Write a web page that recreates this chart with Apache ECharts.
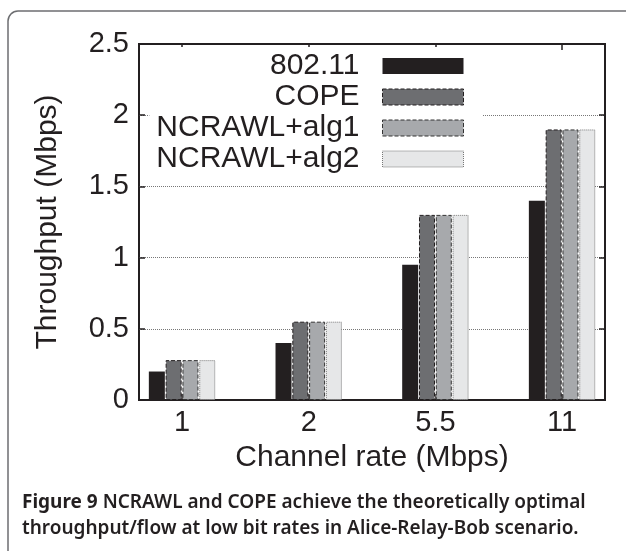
<!DOCTYPE html>
<html>
<head>
<meta charset="utf-8">
<script src="https://cdn.jsdelivr.net/npm/echarts@6/dist/echarts.min.js"></script>
<style>
  html, body { margin: 0; padding: 0; background: #fff; }
  #chart { width: 626px; height: 551px; }
</style>
</head>
<body>
<div id="chart"></div>
<script>
// channel rates on the x axis
const categories = ['1', '2', '5.5', '11'];
const seriesNames = ['802.11', 'COPE', 'NCRAWL+alg1', 'NCRAWL+alg2'];
// throughput (Mbps)
const wifi = [0.2, 0.4, 0.95, 1.4];
const cope = [0.28, 0.55, 1.3, 1.9];
const alg1 = [0.28, 0.55, 1.3, 1.9];
const alg2 = [0.28, 0.55, 1.3, 1.9];
const yMin = 0;
const yMax = 2.5;
const yStep = 0.5;

const ink = '#231f20';
const font = 'Liberation Sans';

const myChart = echarts.init(document.getElementById('chart'));

const tickStyle = { color: ink, width: 1.5 };

// fill, border colour, border type for each series
const looks = [
  ['#231f20', '#231f20', 'solid'],
  ['#6d6e71', '#231f20', 'dashed'],
  ['#a7a9ac', '#333', 'dashed'],
  ['#e6e7e8', '#777', 'dotted'],
];

const barSeries = (idx, data) => ({
  name: seriesNames[idx],
  type: 'bar',
  xAxisIndex: 1,
  yAxisIndex: 2,
  data,
  barWidth: 16,
  barGap: '5%',
  itemStyle: {
    color: looks[idx][0],
    borderColor: looks[idx][1],
    borderWidth: idx === 0 ? 0 : 1,
    borderType: looks[idx][2],
  },
});

const option = {
  animation: false,
  textStyle: { fontFamily: font, color: ink },
  grid: [
    { left: 139, right: 21, top: 44, bottom: 151, show: true, borderColor: ink, borderWidth: 2, backgroundColor: 'transparent' },
    { left: 118.7, width: 506.7, top: 44, bottom: 151 },
  ],
  legend: {
    orient: 'vertical',
    align: 'right',
    right: 143,
    top: 47,
    padding: [4, 19, 4, 7],
    backgroundColor: '#fff',
    itemWidth: 81,
    itemHeight: 16,
    itemGap: 1,
    icon: 'rect',
    textStyle: { fontSize: 30, color: ink, fontFamily: font, lineHeight: 30, padding: [0, 18, 0, 0] },
    data: seriesNames.map((name, i) => ({
      name,
      itemStyle: {
        color: looks[i][0],
        borderColor: looks[i][1],
        borderWidth: i === 0 ? 0 : 1,
        borderType: looks[i][2],
      },
    })),
  },
  xAxis: [
    { gridIndex: 0, type: 'category', data: categories, show: false },
    {
      gridIndex: 1,
      type: 'category',
      data: categories,
      position: 'bottom',
      axisLine: { show: false },
      axisTick: { show: true, inside: true, alignWithLabel: true, length: 6, lineStyle: tickStyle },
      axisLabel: { fontSize: 29, color: ink, margin: 8 },
      name: 'Channel rate (Mbps)',
      nameLocation: 'middle',
      nameGap: 43,
      nameTextStyle: { fontSize: 30, color: ink },
    },
    {
      gridIndex: 1,
      type: 'category',
      data: categories,
      position: 'top',
      axisLine: { show: false },
      axisTick: { show: true, inside: true, alignWithLabel: true, length: 6, lineStyle: tickStyle },
      axisLabel: { show: false },
    },
  ],
  yAxis: [
    {
      gridIndex: 0,
      type: 'value',
      min: yMin,
      max: yMax,
      interval: yStep,
      position: 'left',
      axisLine: { show: false },
      axisTick: { show: true, inside: true, length: 6, lineStyle: tickStyle },
      axisLabel: { fontSize: 29, color: ink, margin: 10 },
      splitLine: { show: true, showMinLine: false, showMaxLine: false, lineStyle: { type: 'dotted', color: '#777', width: 1 } },
      name: 'Throughput (Mbps)',
      nameLocation: 'middle',
      nameGap: 76,
      nameTextStyle: { fontSize: 30, color: ink },
    },
    {
      gridIndex: 0,
      type: 'value',
      min: yMin,
      max: yMax,
      interval: yStep,
      position: 'right',
      axisLine: { show: false },
      axisTick: { show: true, inside: true, length: 6, lineStyle: tickStyle },
      axisLabel: { show: false },
      splitLine: { show: false },
    },
    { gridIndex: 1, type: 'value', min: yMin, max: yMax, interval: yStep, show: false },
  ],
  series: [
    barSeries(0, wifi),
    barSeries(1, cope),
    barSeries(2, alg1),
    barSeries(3, alg2),
  ],
  graphic: [
    {
      type: 'rect',
      shape: { x: 8, y: 11, width: 700, height: 700, r: 10 },
      style: { fill: 'none', stroke: '#6d6e71', lineWidth: 1.5 },
      silent: true,
    },
    {
      type: 'text',
      left: 22,
      top: 490,
      style: {
        text: '{b|Figure 9} NCRAWL and COPE achieve the theoretically optimal\nthroughput/flow at low bit rates in Alice-Relay-Bob scenario.',
        font: '600 19px "Noto Sans"',
        fill: ink,
        lineHeight: 26,
        rich: {
          b: { fontWeight: 'bold', fontSize: 19, fontFamily: 'Noto Sans', fill: ink, lineHeight: 26 },
        },
      },
      silent: true,
    },
  ],
};

myChart.setOption(option);
window.addEventListener('resize', () => myChart.resize());
</script>
</body>
</html>
